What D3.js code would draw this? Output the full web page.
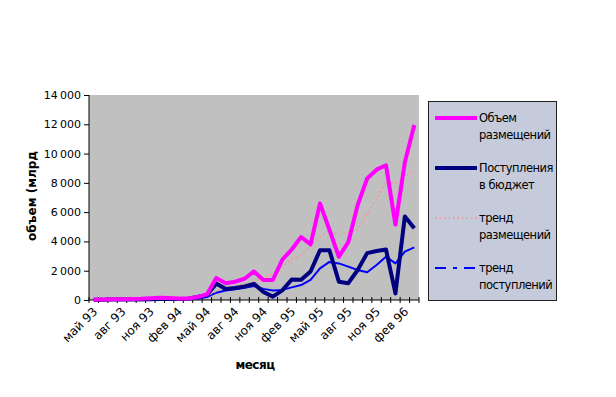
<!DOCTYPE html>
<html>
<head>
<meta charset="utf-8">
<script src="https://cdn.jsdelivr.net/npm/d3@7"></script>
<style>
  body { margin: 0; background: #fff; }
  text { font-family: "DejaVu Sans", Verdana, sans-serif; }
</style>
</head>
<body>
<div id="chart"></div>
<script>
// months, May 93 .. Mar 96
const months = ['май 93','июн 93','июл 93','авг 93','сен 93','окт 93','ноя 93','дек 93',
  'янв 94','фев 94','мар 94','апр 94','май 94','июн 94','июл 94','авг 94','сен 94','окт 94',
  'ноя 94','дек 94','янв 95','фев 95','мар 95','апр 95','май 95','июн 95','июл 95','авг 95',
  'сен 95','окт 95','ноя 95','дек 95','янв 96','фев 96','мар 96'];

// Объем размещений
const placements = [30, 40, 50, 50, 60, 80, 120, 150, 140, 110, 100, 200, 380, 1500, 1150, 1250,
  1450, 1950, 1370, 1370, 2750, 3450, 4300, 3800, 6600, 4800, 2950, 3950, 6500, 8300, 8900, 9200,
  5150, 9400, 11950];
// Поступления в бюджет
const budget = [20, 20, 30, 30, 40, 40, 50, 60, 60, 60, 80, 200, 350, 1120, 750, 820, 920, 1100,
  550, 230, 660, 1400, 1380, 1950, 3400, 3400, 1250, 1150, 2050, 3200, 3350, 3450, 450, 5700, 4900];
// тренд размещений
const trendPlacements = [40, 40, 50, 60, 70, 90, 110, 130, 150, 150, 150, 180, 280, 600, 820, 950,
  1100, 1250, 1500, 1800, 2300, 2800, 3050, 3700, 4300, 4750, 4450, 4650, 4800, 5900, 6900, 8100,
  7950, 8400, 8900];
// тренд поступлений
const trendBudget = [30, 30, 30, 40, 40, 40, 50, 50, 50, 60, 70, 90, 200, 500, 650, 740, 830, 960,
  760, 650, 690, 860, 1020, 1370, 2160, 2600, 2500, 2280, 2050, 1890, 2390, 2960, 2500, 3300, 3600];

const yTicks = [0, 2000, 4000, 6000, 8000, 10000, 12000, 14000];

const series = [
  { name: ['Объем', 'размещений'], values: placements, color: '#ff00ff', width: 4, dash: null, legendDash: null },
  { name: ['Поступления', 'в бюджет'], values: budget, color: '#000080', width: 4, dash: null, legendDash: null },
  { name: ['тренд', 'размещений'], values: trendPlacements, color: '#ff8c8c', width: 1.5, dash: '1.5,3', legendDash: '1.5,3' },
  { name: ['тренд', 'поступлений'], values: trendBudget, color: '#0000ff', width: 2, dash: null, legendDash: '11,7,4,7' }
];

const width = 616, height = 397;
const plot = { left: 89, top: 95, right: 419, bottom: 300 };

const svg = d3.select('#chart').append('svg')
  .attr('width', width).attr('height', height);

const x = d3.scaleBand().domain(months).range([plot.left, plot.right]);
const y = d3.scaleLinear().domain([0, 14000]).range([plot.bottom, plot.top]);

// plot area background
svg.append('rect')
  .attr('x', plot.left).attr('y', plot.top)
  .attr('width', plot.right - plot.left).attr('height', plot.bottom - plot.top)
  .attr('fill', '#c0c0c0');

// y axis
const yAxis = svg.append('g')
  .attr('transform', `translate(${plot.left},0)`)
  .call(d3.axisLeft(y).tickValues(yTicks).tickSize(5).tickPadding(3)
    .tickFormat(d => d === 0 ? '0' : `${d / 1000}\u2009000`));
yAxis.select('.domain').attr('stroke', '#000').attr('d', `M0,${plot.top}V${plot.bottom}`);
yAxis.selectAll('text').style('font-size', '11px').attr('fill', '#000');

// x axis: ticks between categories, labels every 3rd month
const boundaries = d3.range(months.length + 1).map(i => plot.left + i * x.bandwidth());
const xAxis = svg.append('g');
xAxis.append('line')
  .attr('x1', plot.left).attr('x2', plot.right)
  .attr('y1', plot.bottom).attr('y2', plot.bottom)
  .attr('stroke', '#000');
xAxis.selectAll('.tick')
  .data(boundaries)
  .enter().append('line')
  .attr('x1', d => d).attr('x2', d => d)
  .attr('y1', plot.bottom - 3).attr('y2', plot.bottom + 3)
  .attr('stroke', '#000');
xAxis.selectAll('.lbl')
  .data(months.filter((m, i) => i % 3 === 0))
  .enter().append('text')
  .attr('transform', d => `translate(${x(d) + x.bandwidth() / 2 - 2},${plot.bottom + 6}) rotate(-45)`)
  .attr('text-anchor', 'end')
  .attr('dy', '0.75em')
  .style('font-size', '12px')
  .text(d => d);

// lines
const line = d3.line()
  .x((d, i) => x(months[i]) + x.bandwidth() / 2)
  .y(d => y(d));

series.slice().reverse().forEach(s => {
  svg.append('path')
    .datum(s.values)
    .attr('d', line)
    .attr('fill', 'none')
    .attr('stroke', s.color)
    .attr('stroke-width', s.width)
    .attr('stroke-linejoin', 'round')
    .attr('stroke-dasharray', s.dash);
});

// axis titles
svg.append('text')
  .attr('transform', 'translate(36,196) rotate(-90)')
  .attr('text-anchor', 'middle')
  .style('font-size', '12px').style('font-weight', 'bold')
  .text('объем (млрд');

svg.append('text')
  .attr('x', 255).attr('y', 369)
  .attr('text-anchor', 'middle')
  .style('font-size', '12px').style('font-weight', 'bold')
  .style('letter-spacing', '-0.5px')
  .text('месяц');

// legend
const legend = svg.append('g');
legend.append('rect')
  .attr('x', 428.5).attr('y', 101.5).attr('width', 128).attr('height', 199)
  .attr('fill', '#c5cbda').attr('stroke', '#222');

const legendY = [118, 168, 218, 268];
series.forEach((s, i) => {
  const ly = legendY[i];
  legend.append('line')
    .attr('x1', 435).attr('x2', 477).attr('y1', ly).attr('y2', ly)
    .attr('stroke', s.color).attr('stroke-width', s.width)
    .attr('stroke-dasharray', s.legendDash);
  s.name.forEach((t, j) => {
    legend.append('text')
      .attr('x', 479).attr('y', ly + 4 + j * 17)
      .style('font-size', '11.5px')
      .style('letter-spacing', '-0.5px')
      .text(t);
  });
});
</script>
</body>
</html>
